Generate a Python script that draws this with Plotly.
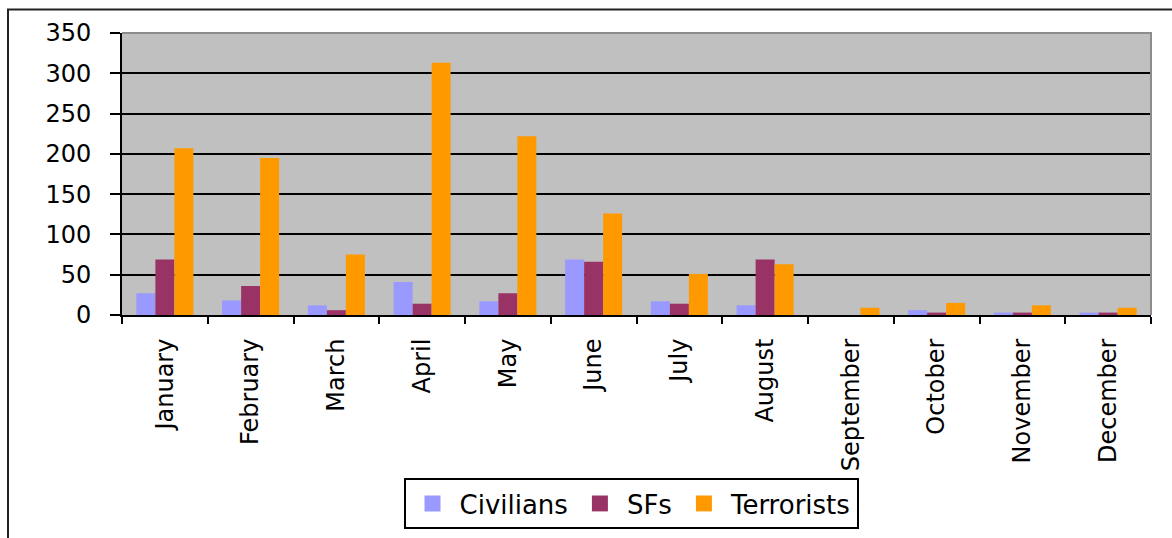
import plotly.graph_objects as go

months = ["January", "February", "March", "April", "May", "June", "July",
          "August", "September", "October", "November", "December"]
civilians = [27, 18, 12, 41, 17, 69, 17, 12, 0, 6, 3, 3]
sfs = [69, 36, 6, 14, 27, 66, 14, 69, 0, 3, 3, 3]
terrorists = [207, 195, 75, 313, 222, 126, 51, 63, 9, 15, 12, 9]
y_ticks = [0, 50, 100, 150, 200, 250, 300, 350]

series = [("Civilians", civilians, "#9999FF"),
          ("SFs", sfs, "#993366"),
          ("Terrorists", terrorists, "#FF9900")]

W, H = 1172, 538
L, R, T, B = 122, 21, 33, 223
pw, ph = W - L - R, H - T - B

def px_x(p):
    return (p - L) / pw

def px_y(p):
    return (H - B - p) / ph

fig = go.Figure()
for name, vals, col in series:
    fig.add_trace(go.Bar(x=months, y=vals, name=name, marker_color=col,
                         marker_line_width=0, showlegend=False))
for name, vals, col in series:
    fig.add_trace(go.Scatter(x=[None], y=[None], mode="markers", name=name,
                             marker=dict(symbol="square", size=20, color=col)))

font = "DejaVu Sans"
fig.update_layout(
    width=W, height=H,
    margin=dict(l=L, r=R, t=T, b=B, autoexpand=False),
    paper_bgcolor="white", plot_bgcolor="#C0C0C0",
    barmode="group", bargap=0.335, bargroupgap=0,
    font=dict(family=font, size=24, color="black"),
    legend=dict(orientation="h", x=px_x(631), xanchor="center",
                y=px_y(478), yanchor="top",
                bordercolor="black", borderwidth=2,
                font=dict(family=font, size=26, color="black"),
                itemsizing="trace", itemwidth=44),
    xaxis=dict(tickangle=-90, tickson="boundaries", ticks="outside", ticklen=7,
               tickcolor="black", tickwidth=1.5, showline=True, linecolor="black",
               linewidth=2, showgrid=False, ticklabelstandoff=12,
               tickfont=dict(family=font, size=24)),
    yaxis=dict(range=[0, 350], tickvals=y_ticks, ticks="outside", ticklen=10,
               tickcolor="black", tickwidth=1.5, showline=True, linecolor="black",
               linewidth=2, showgrid=True, gridcolor="black", gridwidth=2,
               zeroline=False, ticklabelstandoff=14,
               tickfont=dict(family=font, size=24)),
    shapes=[
        dict(type="path", xref="paper", yref="paper", path="M0,1 H1 V0",
             line=dict(color="#8C8C8C", width=2), layer="above"),
        dict(type="rect", xref="paper", yref="paper",
             x0=px_x(8), x1=px_x(1190), y0=px_y(9.5), y1=px_y(560),
             line=dict(color="#222222", width=2), layer="above"),
    ],
)

fig.write_html("out.html")
